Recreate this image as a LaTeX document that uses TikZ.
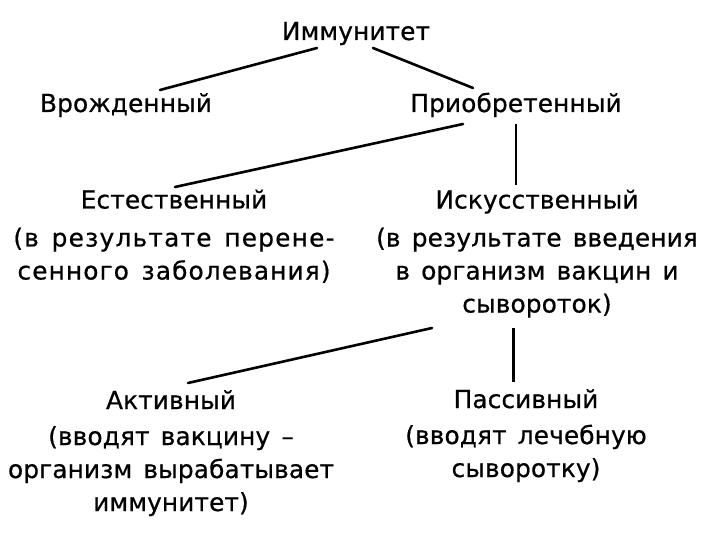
\documentclass[tikz,border=0pt]{standalone}
\usepackage{fontspec}
\setmainfont{DejaVu Sans}[LetterSpace=0.5,WordSpace=1.4,FakeBold=0.6]
\usetikzlibrary{calc}
\begin{document}
\begin{tikzpicture}[x=1pt,y=-1pt,
  txt/.style={font=\fontsize{24.8}{33}\selectfont, inner sep=0pt, align=center, anchor=base},
  link/.style={line width=2.6pt, line cap=round},
  vlink/.style={line width=3pt}]
\useasboundingbox (0,0) rectangle (720,540);
\node[txt] (imm) at (356,40) {Иммунитет};
\node[txt] (vro) at (126,112) {Врожденный};
\node[txt] (pri) at (516,112) {Приобретенный};
\node[txt] (est) at (174,279.5) {Естественный\\[5pt]{\addfontfeatures{LetterSpace=5}(в результате перене-}\\{\addfontfeatures{LetterSpace=4.5}сенного заболевания)}};
\node[txt] (isk) at (537,312.5) {Искусственный\\[5pt](в результате введения\\в организм вакцин и\\сывороток)};
\node[txt] (akt) at (171,511) {Активный\\[3pt](вводят вакцину –\\организм вырабатывает\\иммунитет)};
\node[txt] (pas) at (526,477) {Пассивный\\[3pt](вводят лечебную\\сыворотку)};
\draw[link] ($(imm.base)+(-39,8)$) -- ($(vro.base)+(34,-22)$);
\draw[link] ($(imm.base)+(17,8)$) -- ($(pri.base)+(-43,-24)$);
\draw[link] ($(pri.base)+(-53,12)$) -- ($(est.base)+(1,-92.5)$);
\draw[line width=1.8pt] ($(pri.base)+(0,12)$) -- ($(isk.base)+(-21,-127.5)$);
\draw[link] ($(isk.base)+(-105,15.5)$) -- ($(akt.base)+(17,-128)$);
\draw[vlink] ($(isk.base)+(-24,15.5)$) -- ($(pas.base)+(-13,-95)$);
\end{tikzpicture}
\end{document}
